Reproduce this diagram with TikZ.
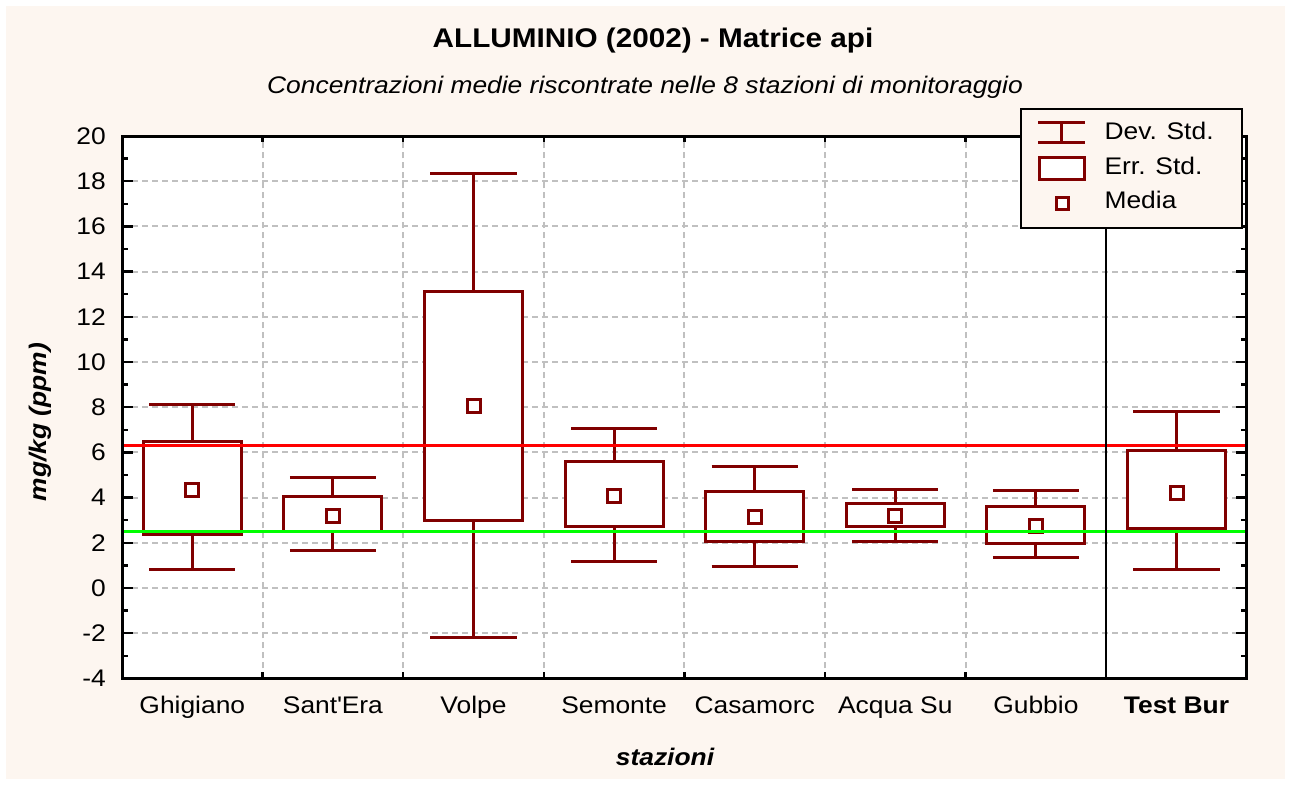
\documentclass[tikz,border=0pt]{standalone}
\usepackage{fontspec}
\setmainfont{Liberation Sans}[FakeStretch=1.1]
\definecolor{paper}{RGB}{253,246,240}
\definecolor{darkred}{RGB}{128,0,0}
\definecolor{gridgray}{RGB}{192,192,192}

\begin{document}
\begin{tikzpicture}[
    x=1pt,
    y=-1pt,
    stat line/.style={draw=darkred,line width=3pt},
    mean mark/.style={draw=darkred,fill=white,line width=3pt,minimum size=13pt,inner sep=0pt},
    grid line/.style={draw=gridgray,line width=2pt,dash pattern=on 6pt off 4pt},
    axis line/.style={draw=black,line width=3pt},
    tick line/.style={draw=black,line width=2.5pt},
    label font/.style={font=\fontsize{24}{28}\selectfont},
    tick label/.style={label font,anchor=east,inner sep=0pt},
    cat label/.style={label font,anchor=base,inner sep=0pt}]

  % page and plot area
  \useasboundingbox (0,0) rectangle (1291,785);
  \fill[paper] (6,6) rectangle (1285,779);
  \fill[white] (122,136) rectangle (1247,677);

  \begin{scope}[shift={(122,588)},x=140.6pt,y=22.6pt]
    % grid
    \foreach \v in {-2,0,...,18}
      \draw[grid line] (0,\v) -- (8,\v);
    \foreach \c in {1,...,6}
      \draw[grid line] (\c,-4) -- (\c,20);

    % stations: whisker low / box low / mean / box high / whisker high
    \foreach \i/\wlo/\blo/\m/\bhi/\whi in {
        1/0.8/2.35/4.34/6.5/8.1,
        2/1.64/2.52/3.19/4.03/4.9,
        3/-2.2/3.0/8.05/13.14/18.36,
        4/1.19/2.74/4.07/5.58/7.04,
        5/0.97/2.08/3.15/4.25/5.36,
        6/2.08/2.7/3.2/3.76/4.34,
        7/1.33/1.95/2.76/3.6/4.3,
        8/0.83/2.62/4.22/6.08/7.82} {
      \draw[stat line] ({\i-0.806},\wlo) -- ({\i-0.194},\wlo);
      \draw[stat line] ({\i-0.806},\whi) -- ({\i-0.194},\whi);
      \draw[stat line] ({\i-0.5},\wlo) -- ({\i-0.5},\blo);
      \draw[stat line] ({\i-0.5},\bhi) -- ({\i-0.5},\whi);
      \draw[stat line,fill=white] ({\i-0.8485},\blo) rectangle ({\i-0.1515},\bhi);
      \node[mean mark] (mean\i) at ({\i-0.5},\m) {};
    }

    % reference levels
    \draw[red,line width=3pt] (0,6.3) -- (8,6.3);
    \draw[green,line width=3pt] (0,2.49) -- (8,2.49);

    % axes and ticks
    \draw[black,line width=2.5pt] (7,-4) -- (7,20);
    \foreach \v in {-4,-2,...,20} {
      \draw[tick line] (0,\v) -- ++(11pt,0);
      \draw[tick line] (8,\v) -- ++(-11pt,0);
    }
    \foreach \v in {-3,-1,...,19} {
      \draw[tick line] (0,\v) -- ++(6pt,0);
      \draw[tick line] (8,\v) -- ++(-6pt,0);
    }
    \foreach \c in {1,...,6} {
      \draw[tick line] (\c,-4) -- ++(0,6pt);
      \draw[tick line] (\c,20) -- ++(0,-6pt);
    }
    \draw[axis line] (0,-4) rectangle (8,20);

    % tick labels
    \foreach \v [count=\k] in {-4,-2,...,20}
      \node[tick label] (ytick\k) at ([xshift=-16pt]0,\v) {\v};
    \foreach \name [count=\i] in {Ghigiano,Sant\textquotesingle Era,Volpe,Semonte,Casamorc,Acqua Su,Gubbio}
      \node[cat label] (station\i) at ([yshift=-35pt]{\i-0.5},-4) {\name};
    \node[cat label,font=\fontsize{24}{28}\selectfont\bfseries] (station8) at ([yshift=-35pt]7.5,-4) {Test Bur};
  \end{scope}

  % titles
  \node[font=\fontsize{27}{32}\selectfont\bfseries] (title) at (653,41) {ALLUMINIO (2002) - Matrice api};
  \node[font=\fontsize{24}{28}\selectfont\itshape] (subtitle) at (645,87) {Concentrazioni medie riscontrate nelle 8 stazioni di monitoraggio};
  \node[font=\fontsize{24}{28}\selectfont\bfseries\itshape] (xlabel) at (665,757) {stazioni};
  \node[font=\fontsize{24}{28}\selectfont\bfseries\itshape,rotate=90] (ylabel) at (40,422) {mg/kg (ppm)};

  % legend
  \draw[fill=paper,line width=2.5pt] (1021,109) rectangle (1242,228);
  \draw[stat line] (1038,122.7) -- (1085,122.7);
  \draw[stat line] (1038,142.3) -- (1085,142.3);
  \draw[stat line] (1061.5,122.7) -- (1061.5,142.3);
  \draw[stat line,fill=white] (1039,157) rectangle (1084,179);
  \node[mean mark,minimum size=12pt] (legmean) at (1062.5,203.7) {};
  \node[label font,anchor=west] (legdev) at (1101,131) {Dev. Std.};
  \node[label font,anchor=west] (legerr) at (1101,166) {Err. Std.};
  \node[label font,anchor=west] (legmed) at (1101,200) {Media};
\end{tikzpicture}
\end{document}
